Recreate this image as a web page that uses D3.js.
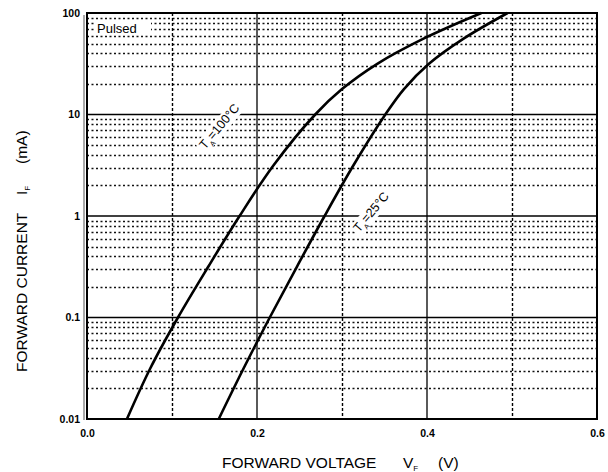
<!DOCTYPE html>
<html><head><meta charset="utf-8">
<script src="https://cdn.jsdelivr.net/npm/d3@7"></script>
<style>body{margin:0;background:#fff}svg{display:block;font-family:"Liberation Sans",Arial,sans-serif}</style>
</head><body><svg id="c" width="608" height="472"></svg>
<script>
const xTicks = [0.0, 0.2, 0.4, 0.6];
const xTickLabels = ["0.0", "0.2", "0.4", "0.6"];
const xMinor = [0.1, 0.3, 0.5];
const yTicks = [0.01, 0.1, 1, 10, 100];
const yTickLabels = ["0.01", "0.1", "1", "10", "100"];
// forward current sample points (mA)
const iPts = [0.01, 0.0316, 0.1, 0.316, 1, 3.16, 10, 17.8, 31.6, 56.2, 100];
// T = 100 °C curve: forward voltage (V) at each current
const v100 = [0.047, 0.0745, 0.107, 0.1426, 0.1795, 0.2195, 0.2685, 0.300, 0.3415, 0.3965, 0.464];
// T = 25 °C curve
const v25 = [0.155, 0.1843, 0.215, 0.2469, 0.2795, 0.3135, 0.351, 0.3729, 0.4023, 0.4435, 0.4948];

const svg = d3.select("#c");
const L = 87, R = 597, T = 13, B = 419;
const x = d3.scaleLinear().domain([0, 0.6]).range([L, R]);
const y = d3.scaleLog().domain([0.01, 100]).range([B, T]);

// gray shadow on left
svg.append("line").attr("x1", L - 3).attr("x2", L - 3).attr("y1", T + 2).attr("y2", B + 1)
  .attr("stroke", "#aaa").attr("stroke-width", 2);

// minor horizontal grid
const minorY = [];
[0.01, 0.1, 1, 10].forEach(d => { for (let k = 2; k <= 9; k++) minorY.push(d * k); });
svg.append("g").selectAll("line").data(minorY).join("line")
  .attr("x1", L).attr("x2", R).attr("y1", d => Math.round(y(d)) + 0.5).attr("y2", d => Math.round(y(d)) + 0.5)
  .attr("stroke", "#111").attr("stroke-width", 1.6).attr("stroke-dasharray", "2,2.5");
// minor vertical grid
svg.append("g").selectAll("line").data(xMinor).join("line")
  .attr("x1", d => Math.round(x(d)) + 0.5).attr("x2", d => Math.round(x(d)) + 0.5).attr("y1", T).attr("y2", B)
  .attr("stroke", "#000").attr("stroke-width", 1.4).attr("stroke-dasharray", "3,2");
// major grid
svg.append("g").selectAll("line").data([0.1, 1, 10]).join("line")
  .attr("x1", L).attr("x2", R).attr("y1", d => y(d)).attr("y2", d => y(d))
  .attr("stroke", "#000").attr("stroke-width", 1.6);
svg.append("g").selectAll("line").data([0.2, 0.4]).join("line")
  .attr("x1", d => x(d)).attr("x2", d => x(d)).attr("y1", T).attr("y2", B)
  .attr("stroke", "#000").attr("stroke-width", 1.3);
// frame
svg.append("rect").attr("x", L).attr("y", T).attr("width", R - L).attr("height", B - T)
  .attr("fill", "none").attr("stroke", "#000").attr("stroke-width", 2);

// curve labels (white background behind them, as in the reference)
function curveLabel(px, py, txt) {
  const g = svg.append("g").attr("transform", `translate(${px},${py}) rotate(-50)`);
  g.append("rect").attr("x", -2).attr("y", -11).attr("width", txt.length * 8 + 10).attr("height", 15).attr("fill", "#fff");
  const t = g.append("text").attr("font-size", 12.5);
  t.append("tspan").text("T");
  t.append("tspan").attr("font-size", 7).attr("dy", 4).text("A");
  t.append("tspan").attr("dy", -4).text(txt);
}
curveLabel(205, 150, "=100°C");
curveLabel(359, 233, "=25°C");

// curves
const line = d3.line().x(d => x(d[0])).y(d => y(d[1])).curve(d3.curveCatmullRom.alpha(0.5));
svg.append("path").datum(v100.map((v, i) => [v, iPts[i]])).attr("d", line)
  .attr("fill", "none").attr("stroke", "#000").attr("stroke-width", 2.6);
svg.append("path").datum(v25.map((v, i) => [v, iPts[i]])).attr("d", line)
  .attr("fill", "none").attr("stroke", "#000").attr("stroke-width", 2.6);

// axes labels
const xa = svg.append("g").attr("transform", `translate(0,${B})`)
  .call(d3.axisBottom(x).tickValues(xTicks).tickFormat((d, i) => xTickLabels[i]).tickSize(0).tickPadding(11));
xa.select(".domain").remove();
xa.selectAll("text").attr("font-size", 10.5).attr("font-weight", "bold").attr("fill", "#000")
  .attr("font-family", "Liberation Sans, Arial, sans-serif");
const ya = svg.append("g").attr("transform", `translate(${L},0)`)
  .call(d3.axisLeft(y).tickValues(yTicks).tickFormat((d, i) => yTickLabels[i]).tickSize(0).tickPadding(7));
ya.select(".domain").remove();
ya.selectAll("text").attr("font-size", 10.5).attr("font-weight", "bold").attr("fill", "#000")
  .attr("font-family", "Liberation Sans, Arial, sans-serif");

// Pulsed
svg.append("rect").attr("x", 95).attr("y", 20).attr("width", 56).attr("height", 15).attr("fill", "#fff");
svg.append("text").attr("x", 97).attr("y", 33).attr("font-size", 13).text("Pulsed");

// axis titles
const xt = svg.append("text").attr("x", 222).attr("y", 468).attr("font-size", 15.5);
xt.append("tspan").text("FORWARD VOLTAGE");
xt.append("tspan").attr("x", 403).text("V");
xt.append("tspan").attr("font-size", 8).attr("dy", 3).text("F");
xt.append("tspan").attr("x", 438).attr("dy", -3).text("(V)");

const yt = svg.append("text").attr("transform", "translate(27,372) rotate(-90)").attr("font-size", 15.5);
yt.append("tspan").text("FORWARD CURRENT");
yt.append("tspan").attr("x", 177).text("I");
yt.append("tspan").attr("font-size", 8).attr("dy", 3).text("F");
yt.append("tspan").attr("x", 208).attr("dy", -3).text("(mA)");
</script></body></html>
